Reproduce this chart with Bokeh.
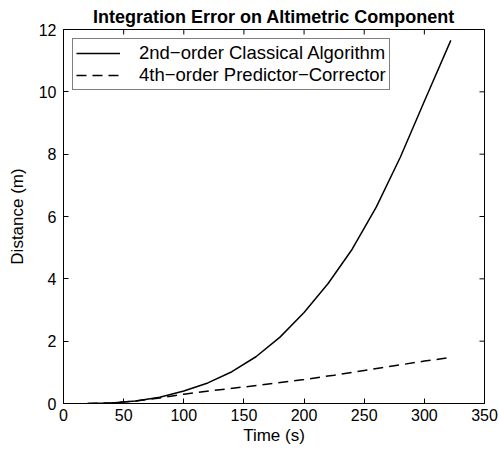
import math
from bokeh.plotting import figure
from bokeh.models import Range1d, FixedTicker, Legend, LegendItem
from bokeh.embed import file_html
from bokeh.resources import INLINE

# ---- data ----
time_classical = [20, 40, 60, 80, 100, 120, 140, 160, 180, 200, 220, 240, 260, 280, 300, 322]
err_classical = [0.0, 0.02, 0.08, 0.2, 0.4, 0.66, 1.02, 1.5, 2.13, 2.92, 3.85, 4.95, 6.3, 7.9, 9.7, 11.65]

time_pc = [20, 40, 60, 80, 100, 125, 150, 175, 200, 225, 250, 275, 300, 321]
err_pc = [0.0, 0.02, 0.08, 0.18, 0.3, 0.42, 0.53, 0.65, 0.77, 0.91, 1.06, 1.21, 1.36, 1.47]

x_ticks = [0, 50, 100, 150, 200, 250, 300, 350]
y_ticks = [0, 2, 4, 6, 8, 10, 12]
x_lim = (0, 350)
y_lim = (0, 12)

FONT = "Liberation Sans"

p = figure(width=499, height=454, output_backend="svg", toolbar_location=None,
           x_range=Range1d(*x_lim), y_range=Range1d(*y_lim),
           min_border_left=63, min_border_right=15,
           min_border_top=29, min_border_bottom=51,
           background_fill_color="white", border_fill_color="white")

p.title.text = "Integration Error on Altimetric Component"
p.title.text_font = FONT
p.title.text_font_size = "18px"
p.title.text_font_style = "bold"
p.title.text_color = "black"
p.title.text_line_height = 0.6
p.title.align = "center"
p.title.vertical_align = "top"
p.title.standoff = 2

p.xgrid.visible = False
p.ygrid.visible = False
p.outline_line_color = "black"
p.outline_line_width = 1

r1 = p.line(time_classical, err_classical, line_color="black", line_width=1.5)
r2 = p.line(time_pc, err_pc, line_color="black", line_width=1.5, line_dash="10 6")

# inward ticks on the top and right edges of the box (MATLAB "box on")
p.scatter(x_ticks, [y_lim[1]] * len(x_ticks), marker="dash", angle=math.pi / 2,
          size=10, line_color="black", line_width=1)
p.scatter([x_lim[1]] * len(y_ticks), y_ticks, marker="dash", angle=0,
          size=10, line_color="black", line_width=1)

def style_axis(ax):
    ax.axis_line_color = "black"
    ax.major_tick_line_color = "black"
    ax.major_tick_in = 5
    ax.major_tick_out = 0
    ax.minor_tick_line_color = None
    ax.major_label_text_font = FONT
    ax.major_label_text_color = "black"
    ax.axis_label_text_font = FONT
    ax.axis_label_text_font_style = "normal"
    ax.axis_label_text_color = "black"

xa = p.xaxis[0]
ya = p.yaxis[0]
xa.ticker = FixedTicker(ticks=x_ticks)
ya.ticker = FixedTicker(ticks=y_ticks)
style_axis(xa)
style_axis(ya)
xa.axis_label = "Time (s)"
ya.axis_label = "Distance (m)"
xa.major_label_text_font_size = "16px"
ya.major_label_text_font_size = "16px"
xa.axis_label_text_font_size = "17px"
ya.axis_label_text_font_size = "17px"
xa.major_label_standoff = 5
ya.major_label_standoff = 7
xa.axis_label_standoff = 2
ya.axis_label_standoff = 9

legend = Legend(items=[
    LegendItem(label="2nd\u2212order Classical Algorithm", renderers=[r1]),
    LegendItem(label="4th\u2212order Predictor\u2212Corrector", renderers=[r2]),
], location="top_left")
legend.label_text_font = FONT
legend.label_text_font_size = "18.5px"
legend.label_text_color = "black"
legend.label_text_line_height = 1.0
legend.label_height = 18
legend.glyph_height = 18
legend.glyph_width = 44
legend.label_standoff = 19
legend.spacing = 0
legend.padding = 3
legend.margin = 9
legend.border_line_color = "black"
legend.border_line_width = 1
legend.background_fill_color = "white"
legend.background_fill_alpha = 1
p.add_layout(legend, "center")

open("out.html", "w").write(file_html(p, INLINE))
